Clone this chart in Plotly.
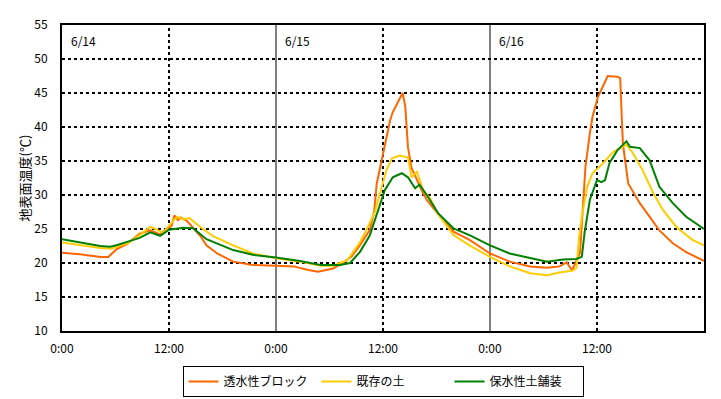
import plotly.graph_objects as go

# --- data (hours from 6/14 0:00, surface temperature in deg C) ---
block_t = [0, 2, 4.3, 5.2, 6.1, 7.3, 8.7, 9.9, 11.0, 11.5, 12.3, 12.6, 13.0, 13.3, 14.0, 14.7, 15.5, 16.2, 17.4,
           19.2, 21.4, 24.0, 26.0, 27.5, 28.7, 30.4, 31.5, 32.5, 33.4, 34.5, 35.0, 35.3, 35.6, 36.2, 36.8, 37.1,
           37.7, 38.2, 38.5, 38.8, 39.2, 39.8, 40.4, 40.9, 42.0, 43.9, 45.7, 48.0, 50.2, 52.5, 54.4, 55.8, 56.6,
           57.2, 57.7, 58.1, 58.4, 58.7, 59.2, 59.5, 60.1, 60.7, 61.2, 62.3, 62.6, 62.9, 63.5, 64.8, 65.9, 67.0,
           68.5, 70.0, 72.0]
block_v = [21.5, 21.3, 20.9, 20.9, 22.0, 22.8, 24.3, 24.8, 24.2, 24.8, 25.5, 27.0, 26.3, 26.7, 26.2, 25.1, 24.0,
           22.6, 21.4, 20.2, 19.7, 19.6, 19.5, 19.0, 18.7, 19.2, 20.0, 21.0, 22.6, 24.8, 27.5, 31.7, 33.5, 37.0,
           41.0, 42.2, 43.7, 45.0, 43.0, 37.0, 34.0, 32.2, 30.5, 29.3, 27.5, 24.6, 23.4, 21.4, 20.2, 19.5, 19.3,
           19.5, 20.1, 18.9, 20.4, 21.5, 27.8, 34.1, 39.1, 41.5, 44.4, 46.2, 47.5, 47.4, 47.2, 37.6, 31.7, 28.8,
           26.8, 24.8, 22.9, 21.6, 20.3]

soil_t = [0, 2, 4.3, 5.5, 6.5, 7.5, 8.7, 9.9, 10.5, 11.3, 12.0, 12.9, 13.6, 14.3, 15.5, 17.0, 19.2, 21.4, 24.0,
          26.7, 29.0, 30.4, 32.0, 33.4, 34.3, 35.1, 35.4, 36.4, 37.0, 37.9, 38.8, 39.2, 39.8, 40.5, 41.3, 42.0,
          43.9, 45.7, 48.0, 50.2, 52.5, 54.4, 55.8, 57.3, 57.7, 58.0, 58.3, 58.9, 59.5, 60.7, 61.8, 63.3, 64.0,
          65.1, 66.3, 67.4, 68.9, 70.7, 72.0]
soil_v = [23.0, 22.6, 22.2, 22.1, 22.5, 23.0, 24.1, 25.3, 25.0, 24.4, 25.5, 26.8, 26.4, 26.6, 25.3, 23.9, 22.6,
          21.4, 20.7, 20.2, 19.6, 19.6, 20.4, 23.0, 25.3, 27.5, 29.0, 33.7, 35.4, 35.8, 35.5, 32.6, 33.4, 30.7,
          29.5, 27.5, 24.1, 22.6, 20.9, 19.5, 18.5, 18.2, 18.6, 18.9, 19.3, 23.8, 26.8, 31.2, 33.2, 34.7, 36.3,
          37.4, 36.2, 33.7, 30.3, 27.8, 25.3, 23.4, 22.6]

paving_t = [0, 2, 4.3, 5.4, 6.1, 7.3, 8.7, 9.9, 11.0, 12.0, 13.6, 14.7, 16.2, 19.2, 21.4, 24.0, 26.7, 29.0, 31.2,
            32.3, 33.4, 34.5, 35.3, 36.2, 37.1, 38.1, 38.8, 39.6, 40.1, 40.9, 42.2, 43.9, 45.7, 48.0, 50.2, 52.5,
            54.4, 56.2, 57.7, 58.3, 58.6, 59.2, 60.0, 60.5, 60.9, 61.4, 62.3, 63.3, 63.7, 64.8, 65.9, 67.0, 68.5,
            70.0, 72.0]
paving_v = [23.5, 23.0, 22.5, 22.4, 22.6, 23.1, 23.7, 24.5, 24.0, 24.9, 25.2, 25.1, 23.5, 21.9, 21.2, 20.8, 20.3,
            19.7, 19.7, 20.0, 21.6, 24.0, 27.0, 30.7, 32.6, 33.2, 32.6, 31.0, 31.5, 30.0, 27.3, 25.1, 24.1, 22.6,
            21.4, 20.7, 20.2, 20.5, 20.6, 20.9, 24.4, 29.3, 32.2, 31.9, 32.2, 34.7, 36.6, 37.9, 37.1, 36.9, 35.1,
            31.2, 28.8, 26.8, 25.0]

series_names = ["透水性ブロック", "既存の土", "保水性土舗装"]
series_colors = ["#FF6600", "#FFCC00", "#008000"]

tick_hours = [0, 12, 24, 36, 48, 60]
tick_labels = ["0:00", "12:00", "0:00", "12:00", "0:00", "12:00"]
day_starts = [0, 24, 48]
day_labels = ["6/14", "6/15", "6/16"]
noon_hours = [12, 36, 60]
midnight_hours = [24, 48]

FONT = "Noto Sans CJK JP"

fig = go.Figure()
for name, color, t, v in zip(series_names, series_colors,
                             [block_t, soil_t, paving_t], [block_v, soil_v, paving_v]):
    fig.add_trace(go.Scatter(x=t, y=v, mode="lines", name=name,
                             line=dict(color=color, width=2)))

for h in noon_hours:
    fig.add_vline(x=h, line=dict(color="black", width=2, dash="dot"), layer="below")
for h in midnight_hours:
    fig.add_vline(x=h, line=dict(color="black", width=1), layer="below")

for h, lab in zip(day_starts, day_labels):
    fig.add_annotation(x=h + 0.8, y=52.7, text=lab, showarrow=False, xanchor="left", yanchor="middle",
                       font=dict(family=FONT, size=12, color="black"))

# page body has an 8px margin; size the figure so the plot area lands where the reference has it
fig.update_layout(
    width=713, height=391,
    margin=dict(l=54, r=17, t=17, b=68, autoexpand=False),
    paper_bgcolor="white", plot_bgcolor="white",
    font=dict(family=FONT, size=12, color="black"),
    showlegend=True,
    legend=dict(orientation="h", x=0.5, xanchor="center", y=-0.114, yanchor="top",
                bordercolor="black", borderwidth=1, font=dict(family=FONT, size=12),
                entrywidth=88, entrywidthmode="pixels", tracegroupgap=0),
    xaxis=dict(range=[0, 72], tickvals=tick_hours, ticktext=tick_labels, showgrid=False,
               showline=True, linecolor="black", linewidth=2, mirror=True, ticks="",
               zeroline=False, automargin=False, ticklabelstandoff=6,
               tickfont=dict(family=FONT, size=12)),
    yaxis=dict(range=[10, 55], dtick=5, tick0=10, showgrid=True, gridcolor="black", gridwidth=2,
               griddash="dot", showline=True, linecolor="black", linewidth=2, mirror=True, ticks="",
               zeroline=False, automargin=False, ticklabelstandoff=10,
               tickfont=dict(family=FONT, size=12),
               title=dict(text="地表面温度(℃)", font=dict(family=FONT, size=13), standoff=1)),
)

fig.write_html("out.html")
